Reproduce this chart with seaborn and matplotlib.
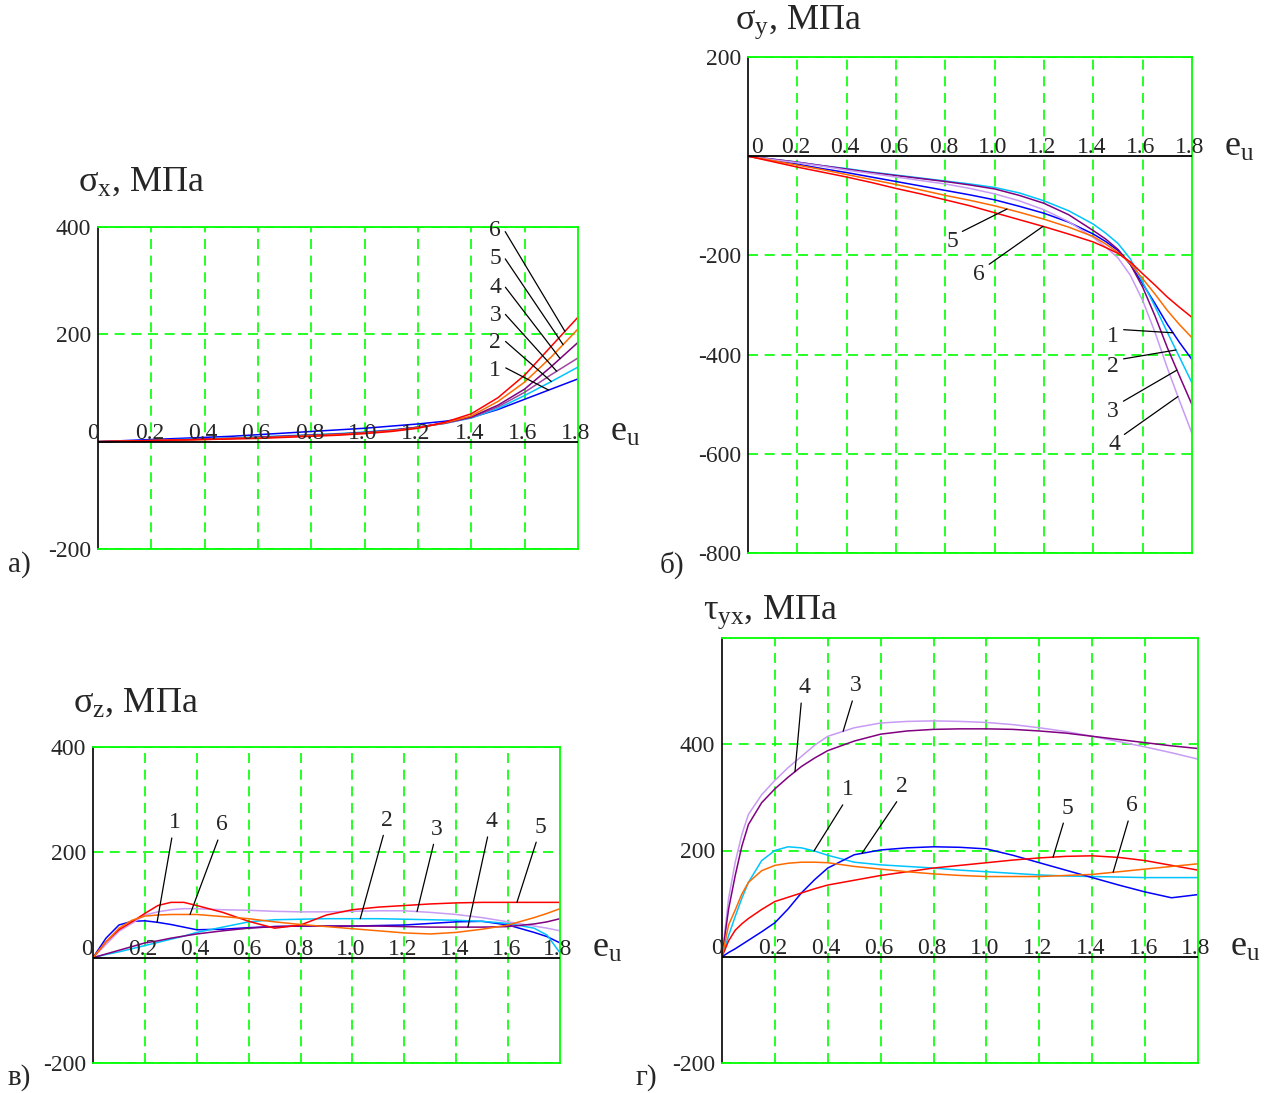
import numpy as np
import pandas as pd
import matplotlib
matplotlib.use('Agg')
import matplotlib.pyplot as plt
import seaborn as sns

# ---- data (x = e_u) ----
x_a = [0, 0.1, 0.2, 0.3, 0.4, 0.5, 0.6, 0.7, 0.8, 0.9, 1.0, 1.1, 1.2, 1.3, 1.4, 1.5, 1.6, 1.7, 1.8]

# a) sigma_x
sx_1 = [0, 2, 4, 6, 8, 10, 13, 16, 19, 22, 25, 29, 33, 38, 45, 60, 79, 98, 117]
sx_2 = [0, 1, 2, 4, 5, 7, 9, 11, 13, 15, 18, 22, 27, 34, 44, 62, 86, 112, 139]
sx_3 = [0, 1, 2, 3, 5, 6, 8, 10, 12, 14, 17, 21, 27, 34, 45, 65, 92, 125, 156]
sx_4 = [0, 1, 2, 3, 5, 6, 8, 10, 12, 14, 17, 21, 27, 35, 46, 68, 98, 140, 185]
sx_5 = [0, 1, 2, 3, 4, 6, 7, 9, 11, 13, 16, 20, 26, 35, 48, 75, 111, 158, 210]
sx_6 = [0, 1, 2, 3, 4, 5, 6, 8, 10, 12, 15, 19, 25, 36, 52, 82, 124, 178, 232]

# б) sigma_y
x_b = [0, 0.1, 0.2, 0.3, 0.4, 0.5, 0.6, 0.7, 0.8, 0.9, 1.0, 1.1, 1.2, 1.3, 1.4,
       1.45, 1.5, 1.55, 1.6, 1.65, 1.7, 1.75, 1.8]
sy_1 = [0, -8, -16, -25, -33, -42, -51, -60, -69, -78, -88, -101, -115, -133, -157,
        -172, -190, -218, -257, -297, -339, -376, -410]
sy_2 = [0, -6, -12, -19, -25, -32, -38, -44, -50, -56, -63, -74, -90, -110, -137,
        -155, -176, -207, -254, -303, -355, -406, -457]
sy_3 = [0, -6, -12, -19, -26, -33, -39, -45, -51, -58, -66, -79, -95, -118, -150,
        -167, -188, -218, -264, -322, -386, -444, -501]
sy_4 = [0, -7, -13, -20, -28, -35, -42, -49, -56, -65, -76, -90, -108, -132, -164,
        -183, -205, -240, -291, -355, -427, -494, -559]
sy_5 = [0, -9, -18, -27, -37, -47, -57, -68, -79, -89, -100, -113, -127, -143, -162,
        -177, -194, -216, -247, -278, -311, -340, -366]
sy_6 = [0, -11, -22, -32, -42, -53, -65, -76, -88, -100, -114, -128, -142, -157, -173,
        -184, -196, -213, -237, -260, -284, -305, -325]

# в) sigma_z
x_c = [0, 0.05, 0.1, 0.15, 0.2, 0.25, 0.3, 0.35, 0.4, 0.5, 0.6, 0.7, 0.8, 0.9,
       1.0, 1.1, 1.2, 1.3, 1.4, 1.5, 1.6, 1.7, 1.75, 1.8]
sz_1 = [0, 37, 62, 69, 70, 67, 63, 58, 53, 54, 57, 59, 60, 60, 60, 61, 62, 65, 68, 69, 62, 48, 40, 28]
sz_2 = [0, 6, 11, 17, 23, 29, 35, 41, 48, 58, 68, 72, 73, 74, 74, 74, 73, 72, 71, 69, 65, 56, 43, 9]
sz_3 = [0, 25, 50, 65, 81, 87, 91, 93, 93, 91, 90, 88, 87, 87, 88, 89, 89, 86, 82, 76, 68, 60, 56, 51]
sz_4 = [0, 7, 14, 21, 28, 32, 37, 41, 45, 51, 56, 59, 60, 60, 60, 60, 59, 58, 58, 58, 59, 64, 68, 74]
sz_5 = [0, 30, 53, 68, 84, 99, 105, 105, 99, 86, 69, 56, 62, 81, 91, 96, 99, 102, 104, 105, 105, 105, 105, 105]
sz_6 = [0, 30, 56, 71, 79, 81, 82, 82, 82, 78, 74, 68, 63, 59, 55, 51, 47, 45, 48, 54, 62, 76, 84, 93]

# г) tau_yx
x_d = [0, 0.025, 0.05, 0.075, 0.1, 0.15, 0.2, 0.25, 0.3, 0.35, 0.4, 0.5, 0.6, 0.7, 0.8, 0.9,
       1.0, 1.1, 1.2, 1.3, 1.4, 1.5, 1.6, 1.7, 1.8]
t_1 = [0, 40, 76, 110, 140, 181, 200, 207, 205, 199, 191, 178, 173, 170, 167, 163,
       160, 157, 154, 152, 151, 150, 149, 149, 149]
t_2 = [0, 8, 15, 23, 31, 47, 64, 90, 120, 145, 167, 192, 201, 205, 207, 206,
       203, 191, 177, 163, 149, 135, 122, 111, 117]
t_3 = [0, 110, 178, 230, 268, 305, 332, 356, 377, 398, 415, 431, 440, 443, 444, 443,
       441, 437, 431, 424, 415, 405, 395, 384, 372]
t_4 = [0, 90, 153, 208, 249, 290, 316, 338, 358, 374, 388, 406, 419, 425, 428, 429,
       429, 428, 425, 421, 415, 409, 403, 397, 392]
t_5 = [0, 30, 50, 62, 72, 89, 104, 112, 120, 128, 135, 144, 153, 160, 167, 172,
       177, 182, 186, 189, 190, 187, 181, 172, 163]
t_6 = [0, 60, 88, 118, 140, 162, 172, 176, 178, 178, 177, 170, 165, 160, 156, 153,
       151, 151, 151, 153, 155, 160, 165, 170, 175]

x_labels = ['0', '0.2', '0.4', '0.6', '0.8', '1.0', '1.2', '1.4', '1.6', '1.8']

BLUE, CYAN, PURPLE, LAVENDER, ORANGE, RED = '#0000FF', '#00C4FF', '#800080', '#C89BF5', '#FF6A00', '#FF0000'
MAUVE = '#A0459E'
GREEN = '#00FF00'

sns.set_style('white')
plt.rcParams['font.family'] = ['Liberation Serif', 'DejaVu Serif']
plt.rcParams['mathtext.fontset'] = 'custom'
plt.rcParams['mathtext.rm'] = 'Liberation Serif'
plt.rcParams['mathtext.it'] = 'Liberation Serif:italic'

W, H = 1265, 1093
fig = plt.figure(figsize=(W / 100, H / 100), dpi=100)


def px_axes(left, top, right, bottom):
    return fig.add_axes([left / W, 1 - bottom / H, (right - left) / W, (bottom - top) / H])


def draw_panel(ax, x, series, colors, ylim, yticks, notes, relpos, zero_dx):
    for y, c in zip(series, colors):
        sns.lineplot(x=x, y=y, color=c, lw=1.1, ax=ax, legend=False)
    ax.set_xlim(0, 1.8)
    ax.set_ylim(*ylim)
    ax.set_xticks([0.2, 0.4, 0.6, 0.8, 1.0, 1.2, 1.4, 1.6])
    ax.set_xticklabels([])
    ax.set_yticks(yticks)
    ax.set_yticklabels([str(v) for v in yticks], fontsize=17)
    ax.tick_params(axis='x', length=0)
    ax.tick_params(axis='y', length=4, width=1.2, color=GREEN, pad=1)
    ax.grid(True, color=GREEN, ls=(0, (6, 4)), lw=1.2)
    ax.set_xlabel('')
    ax.set_ylabel('')
    for s in ['top', 'right', 'bottom']:
        ax.spines[s].set_color(GREEN)
        ax.spines[s].set_linewidth(1.3)
    ax.spines['left'].set_color('black')
    ax.spines['left'].set_linewidth(1.2)
    ax.axhline(0, color='black', lw=1.3, zorder=3)
    # x tick labels drawn inside, just above the zero line
    for i, lab in enumerate(x_labels):
        dx = zero_dx if i == 0 else -2
        ax.annotate(lab, xy=(0.2 * i, 0), xytext=(dx, -2), textcoords='offset pixels',
                    ha='center', va='bottom', fontsize=17)
    ax.annotate('e$_\\mathrm{u}$', xy=(1.8, 0), xytext=(32, 9), textcoords='offset pixels',
                ha='left', va='center', fontsize=26, annotation_clip=False)
    for lab, idx, tx, lx, ly in notes:
        ty = np.interp(tx, x, series[idx])
        ax.annotate(lab, xy=(tx, ty), xytext=(lx, ly), ha='center', va='center', fontsize=17,
                    arrowprops=dict(arrowstyle='-', color='black', lw=0.9,
                                    relpos=relpos, shrinkA=1, shrinkB=0),
                    annotation_clip=False, zorder=5)


# a)
ax_a = px_axes(98, 227, 578, 549)
draw_panel(ax_a, x_a, [sx_1, sx_2, sx_3, sx_4, sx_5, sx_6],
           [BLUE, CYAN, MAUVE, PURPLE, ORANGE, RED], (-200, 400), [-200, 200, 400],
           [('6', 5, 1.751, 1.49, 394), ('5', 4, 1.744, 1.49, 342), ('4', 3, 1.733, 1.49, 288),
            ('3', 2, 1.72, 1.49, 236), ('2', 1, 1.70, 1.49, 184), ('1', 0, 1.69, 1.49, 132)],
           (1.0, 0.75), -5)

# б)
ax_b = px_axes(748, 57, 1192, 553)
draw_panel(ax_b, x_b, [sy_1, sy_2, sy_3, sy_4, sy_5, sy_6],
           [BLUE, CYAN, PURPLE, LAVENDER, ORANGE, RED], (-800, 200), [-800, -600, -400, -200, 200],
           [('5', 4, 1.05, 0.827, -171), ('6', 5, 1.196, 0.936, -239),
            ('1', 0, 1.723, 1.48, -364), ('2', 1, 1.735, 1.48, -425),
            ('3', 2, 1.739, 1.48, -514), ('4', 3, 1.743, 1.484, -582)],
           (1.0, 0.85), 9)

# в)
ax_c = px_axes(93, 747, 560, 1063)
draw_panel(ax_c, x_c, [sz_1, sz_2, sz_3, sz_4, sz_5, sz_6],
           [BLUE, CYAN, LAVENDER, PURPLE, RED, ORANGE], (-200, 400), [-200, 200, 400],
           [('1', 0, 0.247, 0.316, 256), ('6', 5, 0.374, 0.497, 252), ('2', 1, 1.03, 1.133, 261),
            ('3', 2, 1.249, 1.326, 244), ('4', 3, 1.445, 1.534, 258), ('5', 4, 1.634, 1.723, 248)],
           (0.3, 0.0), -6)

# г)
ax_d = px_axes(722, 638, 1198, 1063)
draw_panel(ax_d, x_d, [t_1, t_2, t_3, t_4, t_5, t_6],
           [CYAN, BLUE, LAVENDER, PURPLE, RED, ORANGE], (-200, 600), [-200, 200, 400],
           [('4', 3, 0.276, 0.31, 506), ('3', 2, 0.458, 0.507, 510), ('1', 0, 0.348, 0.476, 314),
            ('2', 1, 0.529, 0.681, 320), ('5', 4, 1.252, 1.305, 280), ('6', 5, 1.479, 1.55, 284)],
           (0.3, 0.0), -5)

# titles and panel letters
titles = [('σ$_\\mathrm{x}$, МПа', 78, 182), ('σ$_\\mathrm{y}$, МПа', 735, 22),
          ('σ$_\\mathrm{z}$, МПа', 73, 703), ('τ$_\\mathrm{yx}$, МПа', 703, 612)]
for t, px, py in titles:
    fig.text(px / W, 1 - py / H, t, fontsize=26, ha='left', va='center')

letters = [('а)', 8, 565), ('б)', 660, 565), ('в)', 8, 1078), ('г)', 636, 1078)]
for t, px, py in letters:
    fig.text(px / W, 1 - py / H, t, fontsize=21, ha='left', va='center')

fig.savefig('out.png', dpi=100)
